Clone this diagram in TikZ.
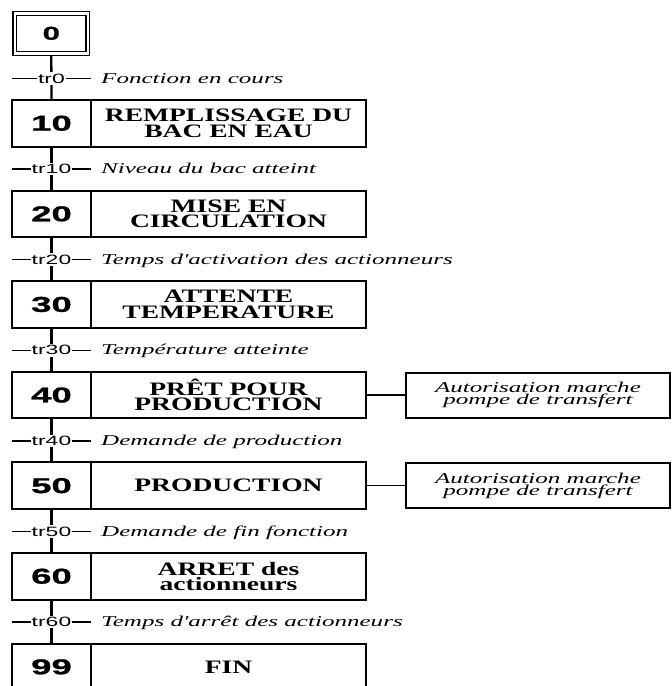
\documentclass[tikz,border=0pt]{standalone}
\usepackage{fontspec}
\usetikzlibrary{positioning}
% Wide (horizontally stretched) faces used throughout the chart
\newfontfamily\stepnumfont{Liberation Sans}[FakeStretch=1.7,FakeBold=1.2]
\newfontfamily\trfont{Liberation Sans}[FakeStretch=1.7]
\newfontfamily\actionfont{Liberation Serif}[FakeStretch=1.45]
\newfontfamily\condfont{Liberation Serif}[FakeStretch=1.67]
\newcommand\tightlines{\lineskiplimit=-20pt\relax}
\tikzset{
  initstep/.style={draw, double, double distance=2.6pt, line width=1.1pt,
    minimum width=73pt, minimum height=40pt, inner sep=0pt, outer sep=2.4pt,
    font=\stepnumfont\bfseries\fontsize{18.5}{18.5}\selectfont},
  numcell/.style={draw, line width=2pt, minimum width=79pt, minimum height=46.5pt,
    inner sep=0pt, outer sep=0pt,
    font=\stepnumfont\bfseries\fontsize{21.5}{21.5}\selectfont},
  actcell/.style={draw, line width=2pt, minimum width=275pt, minimum height=46.5pt,
    inner sep=0pt, outer sep=0pt, align=center,
    font={\actionfont\bfseries\fontsize{19}{15.3}\selectfont\tightlines}},
  actbox/.style={draw, line width=2pt, minimum width=264pt, minimum height=45pt,
    inner sep=0pt, outer sep=0pt, align=center,
    font={\condfont\itshape\fontsize{15}{11.8}\selectfont\tightlines}},
  link/.style={line width=2.3pt},
  trbar/.style={line width=1.3pt},
  actlink/.style={line width=1.3pt},
  trlab/.style={fill=white, inner xsep=1pt, inner ysep=1.5pt,
    font=\trfont\fontsize{13.5}{13.5}\selectfont},
  cond/.style={anchor=base west, inner sep=0pt,
    font=\condfont\itshape\fontsize{15}{15}\selectfont},
}
\begin{document}
\begin{tikzpicture}[x=1pt,y=-1pt]
\useasboundingbox (0,0) rectangle (672,686);
\clip (0,0) rectangle (672,686);

% initial step
\node[initstep] (s0) at (51.3,33.3) {0};

% steps: number cell + action cell
\node[numcell] (n10) at (51.5,123.25) {10};
\node[actcell, right=0pt of n10] (a10) {REMPLISSAGE DU\\BAC EN EAU};
\node[numcell] (n20) at (51.5,213.85) {20};
\node[actcell, right=0pt of n20] (a20) {MISE EN\\CIRCULATION};
\node[numcell] (n30) at (51.5,304.45) {30};
\node[actcell, right=0pt of n30] (a30) {ATTENTE\\TEMPERATURE};
\node[numcell] (n40) at (51.5,395.05) {40};
\node[actcell, right=0pt of n40] (a40) {PRÊT POUR\\PRODUCTION};
\node[numcell] (n50) at (51.5,485.65) {50};
\node[actcell, right=0pt of n50] (a50) {PRODUCTION};
\node[numcell] (n60) at (51.5,576.25) {60};
\node[actcell, right=0pt of n60] (a60) {ARRET des\\actionneurs};
\node[numcell] (n99) at (51.5,666.85) {99};
\node[actcell, right=0pt of n99] (a99) {FIN};

% associated actions
\node[actbox, right=40pt of a40] (b40) {Autorisation marche\\pompe de transfert};
\node[actbox, right=40pt of a50] (b50) {Autorisation marche\\pompe de transfert};
\draw[actlink] (a40.east) -- (b40.west);
\draw[actlink] (a50.east) -- (b50.west);

% links between steps
\draw[link] (s0.south) -- (n10.north);
\draw[link] (n10.south) -- (n20.north);
\draw[link] (n20.south) -- (n30.north);
\draw[link] (n30.south) -- (n40.north);
\draw[link] (n40.south) -- (n50.north);
\draw[link] (n50.south) -- (n60.north);
\draw[link] (n60.south) -- (n99.north);

% transitions
\coordinate (t0) at (51.5,78.5);
\coordinate (t10) at (51.5,169);
\coordinate (t20) at (51.5,259.7);
\coordinate (t30) at (51.5,350.3);
\coordinate (t40) at (51.5,441);
\coordinate (t50) at (51.5,531.5);
\coordinate (t60) at (51.5,622);
\foreach \t in {t0,t10,t20,t30,t40,t50,t60}{
  \draw[trbar] ([xshift=-39.5pt]\t) -- ([xshift=39.5pt]\t);
}
\node[trlab] (tr0) at (t0) {tr0};
\node[trlab] (tr10) at (t10) {tr10};
\node[trlab] (tr20) at (t20) {tr20};
\node[trlab] (tr30) at (t30) {tr30};
\node[trlab] (tr40) at (t40) {tr40};
\node[trlab] (tr50) at (t50) {tr50};
\node[trlab] (tr60) at (t60) {tr60};

% receptivities
\node[cond] (c0) at ([xshift=49.5pt,yshift=-4.5pt]t0) {Fonction en cours};
\node[cond] (c10) at ([xshift=49.5pt,yshift=-4.5pt]t10) {Niveau du bac atteint};
\node[cond] (c20) at ([xshift=49.5pt,yshift=-4.5pt]t20) {Temps d'activation des actionneurs};
\node[cond] (c30) at ([xshift=49.5pt,yshift=-4.5pt]t30) {Température atteinte};
\node[cond] (c40) at ([xshift=49.5pt,yshift=-4.5pt]t40) {Demande de production};
\node[cond] (c50) at ([xshift=49.5pt,yshift=-4.5pt]t50) {Demande de fin fonction};
\node[cond] (c60) at ([xshift=49.5pt,yshift=-4.5pt]t60) {Temps d'arrêt des actionneurs};
\end{tikzpicture}
\end{document}
